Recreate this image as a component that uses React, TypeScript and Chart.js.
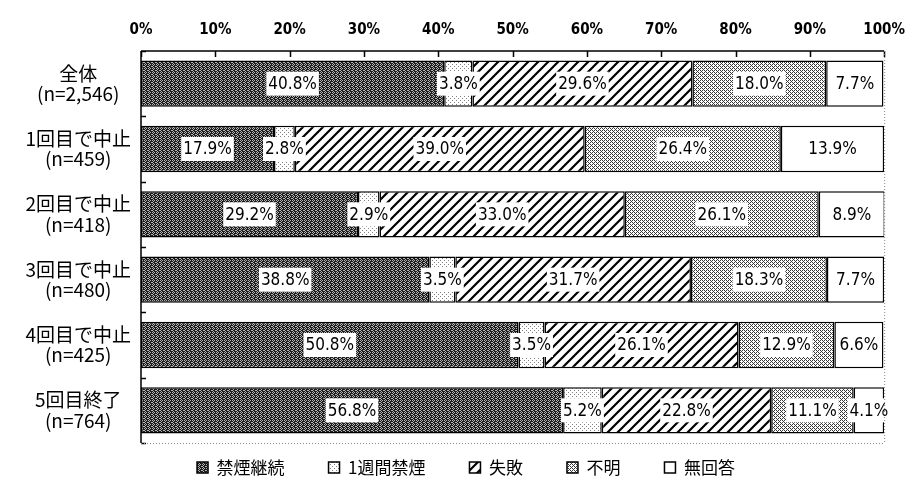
import React, { useEffect, useRef } from 'react';
import { Chart, registerables } from 'chart.js';

Chart.register(...registerables);

// ---- data ----
const categories: string[][] = [
  ['全体', '(n=2,546)'],
  ['1回目で中止', '(n=459)'],
  ['2回目で中止', '(n=418)'],
  ['3回目で中止', '(n=480)'],
  ['4回目で中止', '(n=425)'],
  ['5回目終了', '(n=764)'],
];
const seriesNames = ['禁煙継続', '1週間禁煙', '失敗', '不明', '無回答'];
const continued = [40.8, 17.9, 29.2, 38.8, 50.8, 56.8];
const oneWeek = [3.8, 2.8, 2.9, 3.5, 3.5, 5.2];
const failed = [29.6, 39.0, 33.0, 31.7, 26.1, 22.8];
const unknown = [18.0, 26.4, 26.1, 18.3, 12.9, 11.1];
const noAnswer = [7.7, 13.9, 8.9, 7.7, 6.6, 4.1];
const xMin = 0;
const xMax = 100;
const xStep = 10;

const NARROW = '"Liberation Sans Narrow", "DejaVu Sans Condensed", "Liberation Sans", sans-serif';
const JP = '"Noto Sans CJK JP", "Noto Sans", sans-serif';

function makePattern(kind: string): CanvasPattern | string {
  const c = document.createElement('canvas');
  const ctx = c.getContext('2d')!;
  if (kind === 'dark') {
    c.width = 4; c.height = 4;
    ctx.fillStyle = '#1c1c1c';
    ctx.fillRect(0, 0, 4, 4);
    ctx.fillStyle = '#b4b4b4';
    [[0, 0], [2, 0], [1, 1], [3, 2], [1, 3], [0, 2]].forEach(([x, y]) => ctx.fillRect(x, y, 1, 1));
  } else if (kind === 'sparse') {
    c.width = 4; c.height = 4;
    ctx.fillStyle = '#ffffff';
    ctx.fillRect(0, 0, 4, 4);
    ctx.fillStyle = '#808080';
    ctx.fillRect(0, 0, 1, 1);
    ctx.fillRect(2, 2, 1, 1);
  } else if (kind === 'hatch') {
    const n = 10;
    c.width = n; c.height = n;
    ctx.fillStyle = '#ffffff';
    ctx.fillRect(0, 0, n, n);
    ctx.strokeStyle = '#000000';
    ctx.lineWidth = 2.2;
    ctx.beginPath();
    ctx.moveTo(-1, n + 1); ctx.lineTo(n + 1, -1);
    ctx.moveTo(-1, 1); ctx.lineTo(1, -1);
    ctx.moveTo(n - 1, n + 1); ctx.lineTo(n + 1, n - 1);
    ctx.stroke();
  } else if (kind === 'checker') {
    c.width = 4; c.height = 4;
    ctx.fillStyle = '#ffffff';
    ctx.fillRect(0, 0, 4, 4);
    ctx.fillStyle = '#383838';
    [[0, 0], [2, 0], [3, 1], [0, 2], [2, 2], [1, 3]].forEach(([x, y]) => ctx.fillRect(x, y, 1, 1));
  } else {
    return '#ffffff';
  }
  return ctx.createPattern(c, 'repeat')!;
}

const segLabels = {
  id: 'segLabels',
  afterDatasetsDraw(chart: any) {
    const ctx = chart.ctx;
    ctx.save();
    ctx.font = `17px ${NARROW}`;
    ctx.textAlign = 'center';
    ctx.textBaseline = 'middle';
    chart.data.datasets.forEach((ds: any, di: number) => {
      const meta = chart.getDatasetMeta(di);
      meta.data.forEach((bar: any, i: number) => {
        const v = ds.data[i];
        const p = bar.getProps(['x', 'y', 'base'], true);
        const cx = (p.x + p.base) / 2;
        const text = v.toFixed(1) + '%';
        const w = ctx.measureText(text).width;
        ctx.fillStyle = '#ffffff';
        ctx.fillRect(cx - w / 2 - 2, p.y - 12, w + 4, 24);
        ctx.fillStyle = '#000000';
        ctx.fillText(text, cx, p.y + 1);
      });
    });
    ctx.restore();
  },
};

const frame = {
  id: 'frame',
  afterDraw(chart: any) {
    const ctx = chart.ctx;
    const { left, right, top, bottom } = chart.chartArea;
    const xs = chart.scales.x;
    const ys = chart.scales.y;
    ctx.save();
    ctx.strokeStyle = '#000';
    ctx.lineWidth = 1.5;
    ctx.beginPath();
    ctx.moveTo(left, top); ctx.lineTo(right, top);
    ctx.moveTo(left, top); ctx.lineTo(left, bottom);
    xs.ticks.forEach((t: any) => {
      const px = Math.round(xs.getPixelForValue(t.value)) + 0.5;
      ctx.moveTo(px, top); ctx.lineTo(px, top + 6);
    });
    for (let i = 0; i <= categories.length; i++) {
      const py = Math.round(ys.getPixelForValue(i - 0.5)) + 0.5;
      ctx.moveTo(left, py); ctx.lineTo(left + 5, py);
    }
    ctx.stroke();
    ctx.setLineDash([1, 2]);
    ctx.strokeStyle = '#8a8a8a';
    ctx.lineWidth = 1;
    ctx.beginPath();
    ctx.moveTo(right + 0.5, top); ctx.lineTo(right + 0.5, bottom);
    ctx.moveTo(left, bottom + 0.5); ctx.lineTo(right, bottom + 0.5);
    ctx.stroke();
    ctx.restore();
  },
};

const LEGEND_DX = 18;
const LEGEND_DY = -28;
const legendShift = {
  id: 'legendShift',
  afterInit(chart: any) {
    const lg = chart.legend;
    if (!lg || lg.__patched) return;
    const orig = lg._draw.bind(lg);
    lg._draw = function () {
      const ctx = this.ctx;
      ctx.save();
      ctx.translate(LEGEND_DX, LEGEND_DY);
      orig();
      ctx.restore();
    };
    lg.__patched = true;
  },
};

export default function App() {
  const ref = useRef<HTMLCanvasElement>(null);
  useEffect(() => {
    const canvas = ref.current!;
    const fills = [makePattern('dark'), makePattern('sparse'), makePattern('hatch'), makePattern('checker'), makePattern('white')];
    const values = [continued, oneWeek, failed, unknown, noAnswer];
    const chart = new Chart(canvas, {
      type: 'bar',
      data: {
        labels: categories as any,
        datasets: seriesNames.map((name, i) => ({
          label: name,
          data: values[i],
          backgroundColor: fills[i] as any,
          borderColor: '#000000',
          borderWidth: 1.5,
          borderSkipped: false,
          barPercentage: 0.71,
          categoryPercentage: 1,
        })),
      },
      options: {
        indexAxis: 'y',
        animation: false,
        responsive: true,
        maintainAspectRatio: false,
        layout: { padding: { left: 0, right: 21, top: 9, bottom: 0 } },
        scales: {
          x: {
            type: 'linear',
            position: 'top',
            stacked: true,
            min: xMin,
            max: xMax,
            ticks: {
              stepSize: xStep,
              callback: (v: any) => `${v}%`,
              color: '#000',
              font: { family: NARROW, size: 15, weight: 'bold' },
              padding: 12,
            },
            grid: { display: false, drawTicks: false },
            border: { display: false },
          },
          y: {
            stacked: true,
            ticks: {
              crossAlign: 'center',
              padding: 10,
              color: '#000',
              font: { family: JP, size: 19, lineHeight: 1.08 },
            },
            grid: { display: false, drawTicks: false },
            border: { display: false },
            afterFit: (s: any) => { s.width = 141; s.paddingTop = 0; s.paddingBottom = 0; },
          },
        },
        plugins: {
          legend: {
            position: 'bottom',
            maxHeight: 48,
            labels: {
              color: '#000',
              font: { family: JP, size: 17 },
              boxWidth: 11,
              boxHeight: 11,
              padding: 44,
            },
          },
          tooltip: { enabled: false },
        },
      } as any,
      plugins: [segLabels, frame, legendShift],
    });
    return () => chart.destroy();
  }, []);
  return (
    <div style={{ position: 'absolute', left: 0, top: 0, width: 917, height: 491, background: '#fff' }}>
      <canvas ref={ref} style={{ display: 'block' }} />
    </div>
  );
}
